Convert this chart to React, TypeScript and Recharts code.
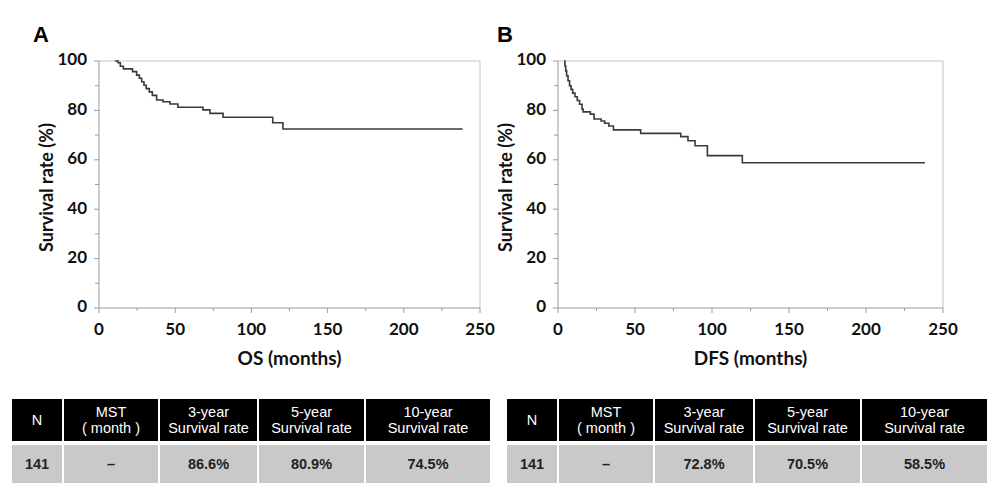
import React from 'react';
import { LineChart, Line, XAxis, YAxis, ReferenceLine } from 'recharts';

// OS curve (panel A)
const osMonths = [10.5, 12.5, 14, 16, 22, 24.7, 26.5, 28, 29.5, 31, 33, 35, 37.8, 42, 46.6, 51.8, 68.2, 72.8, 81.4, 114, 120.7, 238.6];
const osSurvival = [100, 99.3, 97.9, 96.8, 95.7, 94.3, 93, 91.6, 90.2, 88.8, 87.5, 86.1, 84.2, 83.5, 82.6, 81.3, 80.2, 78.8, 77.2, 75, 72.5, 72.5];

// DFS curve (panel B)
const dfsMonths = [3.9, 4.5, 5, 5.6, 6.5, 7.5, 8.5, 9.5, 11, 12.5, 14, 15.6, 16.3, 21, 23.4, 28, 30.3, 33, 36, 53.7, 79.7, 84.4, 89, 97, 119.7, 238.3];
const dfsSurvival = [100, 98, 96, 94, 92, 90, 88.5, 87, 85.5, 84, 82.5, 80.5, 79.4, 78.5, 76.5, 75.7, 74.8, 73.7, 72.1, 70.7, 69.4, 67.7, 65.7, 61.7, 58.8, 58.8];

const xTicks = [0, 25, 50, 75, 100, 125, 150, 175, 200, 225, 250];
const yTicks = [0, 10, 20, 30, 40, 50, 60, 70, 80, 90, 100];

const tableHeaders = ['N', 'MST\n( month )', '3-year\nSurvival rate', '5-year\nSurvival rate', '10-year\nSurvival rate'];
const osTableRow = ['141', '–', '86.6%', '80.9%', '74.5%'];
const dfsTableRow = ['141', '–', '72.8%', '70.5%', '58.5%'];

const AXIS = '#9a9a9a';
const FONT = 'Lato, "Open Sans", sans-serif';

const XTick = (props: any) => {
  const { x, y, payload } = props;
  const major = payload.value % 50 === 0;
  return (
    <g>
      <line x1={x} x2={x} y1={y} y2={y + (major ? 5 : 3)} stroke={AXIS} />
      {major && (
        <text x={x} y={y + 23} textAnchor="middle" dominantBaseline="middle" fontFamily={FONT} fontWeight={700} fontSize={17} fill="#111">
          {payload.value}
        </text>
      )}
    </g>
  );
};

const YTick = (props: any) => {
  const { x, y, payload } = props;
  const major = payload.value % 20 === 0;
  return (
    <g>
      <line x1={x - (major ? 5 : 4)} x2={x} y1={y} y2={y} stroke={AXIS} />
      {major && (
        <text x={x - 12} y={y} textAnchor="end" dominantBaseline="middle" fontFamily={FONT} fontWeight={700} fontSize={17} fill="#111">
          {payload.value}
        </text>
      )}
    </g>
  );
};

type PanelProps = {
  months: number[];
  survival: number[];
  xTitle: string;
  width: number;
  yAxisWidth: number;
  rightMargin: number;
};

const Panel = ({ months, survival, xTitle, width, yAxisWidth, rightMargin }: PanelProps) => {
  const data = months.map((m, i) => ({ month: m, survival: survival[i] }));
  return (
    <LineChart width={width} height={380} data={data} margin={{ top: 61, right: rightMargin, bottom: 0, left: 0 }}>
      <XAxis
        type="number"
        dataKey="month"
        domain={[0, 250]}
        ticks={xTicks}
        interval={0}
        height={72}
        tickSize={0}
        tickMargin={0}
        stroke={AXIS}
        tick={<XTick />}
        label={{
          content: (p: any) => {
            const vb = p.viewBox;
            return (
              <text x={vb.x + vb.width / 2} y={vb.y + 52} textAnchor="middle" dominantBaseline="middle" fontFamily={FONT} fontWeight={700} fontSize={19} fill="#111">
                {xTitle}
              </text>
            );
          },
        }}
      />
      <YAxis
        type="number"
        domain={[0, 100]}
        ticks={yTicks}
        interval={0}
        width={yAxisWidth}
        tickSize={0}
        tickMargin={0}
        stroke={AXIS}
        tick={<YTick />}
        label={{
          content: (p: any) => {
            const vb = p.viewBox;
            const cx = vb.x + vb.width - 51;
            const cy = vb.y + vb.height / 2 + 3;
            return (
              <text x={cx} y={cy} transform={`rotate(-90 ${cx} ${cy})`} textAnchor="middle" dominantBaseline="middle" fontFamily={FONT} fontWeight={700} fontSize={18} fill="#111">
                Survival rate (%)
              </text>
            );
          },
        }}
      />
      <ReferenceLine y={100} stroke="#c4c4c4" />
      <ReferenceLine x={250} stroke="#c4c4c4" />
      <Line type="stepAfter" dataKey="survival" stroke="#3a3a3a" strokeWidth={1.6} dot={false} isAnimationActive={false} />
    </LineChart>
  );
};

const SurvivalTable = ({ row, left, widths }: { row: string[]; left: number; widths: number[] }) => {
  return (
    <div style={{ position: 'absolute', left, top: 399, display: 'flex', flexDirection: 'column', gap: 4, fontFamily: '"Liberation Sans", Arial, sans-serif', fontSize: 14.5 }}>
      <div style={{ display: 'flex', gap: 2 }}>
        {tableHeaders.map((h, i) => (
          <div key={i} style={{ width: widths[i], height: 42, background: '#000', color: '#fff', display: 'flex', alignItems: 'center', justifyContent: 'center', textAlign: 'center', whiteSpace: 'pre-line', lineHeight: '16px' }}>
            {h}
          </div>
        ))}
      </div>
      <div style={{ display: 'flex', gap: 2 }}>
        {row.map((v, i) => (
          <div key={i} style={{ width: widths[i], height: 38, background: '#c9c9c9', color: '#222', display: 'flex', alignItems: 'center', justifyContent: 'center', fontWeight: 700 }}>
            {v}
          </div>
        ))}
      </div>
    </div>
  );
};

export default function App() {
  return (
    <div style={{ position: 'absolute', left: 0, top: 0, width: 992, height: 492, background: '#fff', overflow: 'hidden' }}>
      <div style={{ position: 'absolute', left: 0, top: 0 }}>
        <Panel months={osMonths} survival={osSurvival} xTitle="OS (months)" width={496} yAxisWidth={99} rightMargin={16} />
      </div>
      <div style={{ position: 'absolute', left: 466, top: 0 }}>
        <Panel months={dfsMonths} survival={dfsSurvival} xTitle="DFS (months)" width={526} yAxisWidth={92} rightMargin={49} />
      </div>
      <div style={{ position: 'absolute', left: 33, top: 22, fontFamily: '"Liberation Sans", Arial, sans-serif', fontWeight: 700, fontSize: 22 }}>A</div>
      <div style={{ position: 'absolute', left: 497, top: 22, fontFamily: '"Liberation Sans", Arial, sans-serif', fontWeight: 700, fontSize: 22 }}>B</div>
      <SurvivalTable row={osTableRow} left={12} widths={[50, 94, 97, 105, 124]} />
      <SurvivalTable row={dfsTableRow} left={507} widths={[50, 94, 98, 105, 125]} />
    </div>
  );
}
